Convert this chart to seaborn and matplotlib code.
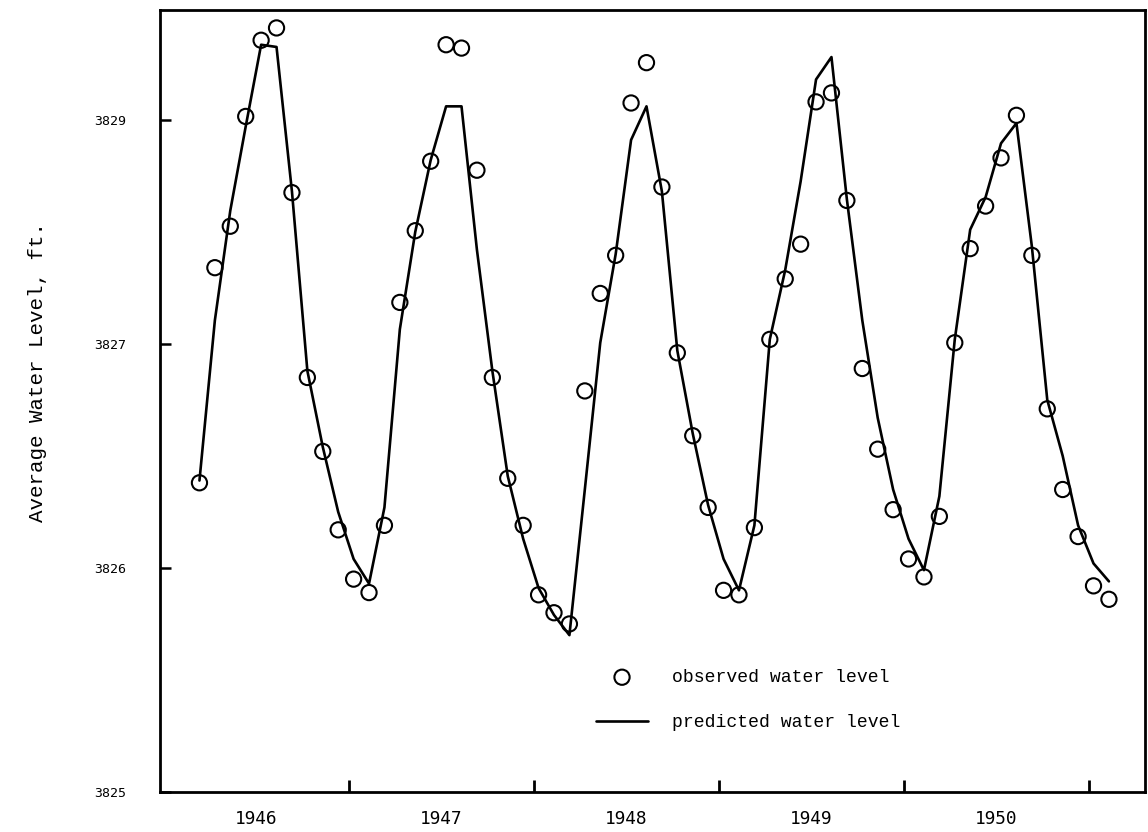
import numpy as np
import pandas as pd
import matplotlib
matplotlib.use("Agg")
import matplotlib.pyplot as plt
import seaborn as sns

# ---- data ----
start_month = "1946-03"          # first monthly reading (March 1946)
n_months = 60
observed = [3826.38, 3827.68, 3828.05, 3829.03, 3829.71, 3829.82, 3828.35, 3826.85, 3826.52, 3826.17, 3825.95, 3825.89,
            3826.19, 3827.37, 3828.01, 3828.63, 3829.67, 3829.64, 3828.55, 3826.85, 3826.40, 3826.19, 3825.88, 3825.80,
            3825.75, 3826.79, 3827.45, 3827.79, 3829.15, 3829.51, 3828.40, 3826.96, 3826.59, 3826.27, 3825.90, 3825.88,
            3826.18, 3827.04, 3827.58, 3827.89, 3829.16, 3829.24, 3828.28, 3826.89, 3826.53, 3826.26, 3826.04, 3825.96,
            3826.23, 3827.01, 3827.85, 3828.23, 3828.66, 3829.04, 3827.79, 3826.71, 3826.35, 3826.14, 3825.92, 3825.86]
predicted = [3826.39, 3827.21, 3828.19, 3828.94, 3829.67, 3829.65, 3828.36, 3826.88, 3826.54, 3826.25, 3826.04, 3825.93,
             3826.27, 3827.13, 3828.00, 3828.64, 3829.12, 3829.12, 3827.84, 3826.88, 3826.41, 3826.13, 3825.91, 3825.79,
             3825.70, 3826.35, 3827.01, 3827.80, 3828.82, 3829.12, 3828.36, 3826.97, 3826.60, 3826.28, 3826.04, 3825.90,
             3826.19, 3827.04, 3827.66, 3828.45, 3829.36, 3829.56, 3828.29, 3827.21, 3826.67, 3826.35, 3826.13, 3825.99,
             3826.32, 3827.04, 3828.02, 3828.31, 3828.79, 3828.97, 3827.87, 3826.75, 3826.50, 3826.19, 3826.02, 3825.94]
year_labels = ["1946", "1947", "1948", "1949", "1950"]
y_ticks = [3825, 3826, 3827, 3829]
y_tick_labels = ["3825", "3826", "3827", "3829"]
obs_label = "observed water level"
pred_label = "predicted water level"
y_title = "Average Water Level, ft."

# readings taken around the 10th of each month -> decimal year
dates = pd.date_range(start_month + "-10", periods=n_months, freq=pd.DateOffset(months=1))
dec_year = dates.year + (dates.month - 1) / 12 + (dates.day - 1) / 365.0
df = pd.DataFrame({"t": dec_year, "observed": observed, "predicted": predicted})

# ---- figure ----
sns.set_style("white")
plt.rcParams["font.family"] = ["Liberation Mono", "DejaVu Sans Mono"]
plt.rcParams["text.color"] = "black"
plt.rcParams["axes.labelcolor"] = "black"
plt.rcParams["xtick.color"] = "black"
plt.rcParams["ytick.color"] = "black"

fig = plt.figure(figsize=(11.48, 8.32), dpi=100)
ax = fig.add_axes([160 / 1148, 1 - 792 / 832, (1145 - 160) / 1148, (792 - 10) / 832])

# the original axis: equal spacing between 3825, 3826, 3827 and 3829
def fwd(v):
    v = np.asarray(v, dtype=float)
    return np.where(v <= 3827, v - 3825, 2 + (v - 3827) / 2.0)

def inv(t):
    t = np.asarray(t, dtype=float)
    return np.where(t <= 2, t + 3825, 3827 + 2 * (t - 2))

ax.set_yscale("function", functions=(fwd, inv))

sns.lineplot(data=df, x="t", y="predicted", ax=ax, color="black", linewidth=1.9,
             label=pred_label)
sns.scatterplot(data=df, x="t", y="observed", ax=ax, marker="o", s=120,
                facecolors="none", edgecolor="black", linewidth=1.5,
                label=obs_label, zorder=3)

ax.set_xlim(1945.978, 1951.303)
ax.set_ylim(3825, 3829.98)

# x: ticks at year boundaries, labels centred within each year
ax.set_xticks([1947, 1948, 1949, 1950, 1951])
ax.set_xticklabels([""] * 5)
ax.set_xticks([1946.5, 1947.5, 1948.5, 1949.5, 1950.5], minor=True)
ax.set_xticklabels(year_labels, minor=True, fontsize=12.8, family="DejaVu Sans Mono")
ax.tick_params(axis="x", which="major", direction="in", length=9, width=2,
               color="black", bottom=True, top=False)
ax.tick_params(axis="x", which="minor", length=0, pad=13, bottom=True,
               labelcolor="black")

ax.set_yticks(y_ticks)
ax.set_yticklabels(y_tick_labels, fontsize=9.5, family="DejaVu Sans Mono")
ax.tick_params(axis="y", which="major", direction="in", length=8, width=1.8,
               color="black", labelcolor="black", pad=24, left=True, right=False)
ax.yaxis.set_minor_locator(matplotlib.ticker.NullLocator())

ax.set_xlabel("")
ax.set_ylabel(y_title, fontsize=15, color="black")
ax.yaxis.set_label_coords(-0.115, 0.537)

for side in ["left", "right", "top", "bottom"]:
    ax.spines[side].set_visible(True)
    ax.spines[side].set_color("black")
    ax.spines[side].set_linewidth(2.0)

handles, labels = ax.get_legend_handles_labels()
order = [labels.index(obs_label), labels.index(pred_label)]
leg = ax.legend([handles[i] for i in order], [labels[i] for i in order],
                loc="upper left", bbox_to_anchor=(596 / 1148, 1 - 669 / 832),
                bbox_transform=fig.transFigure, frameon=False, fontsize=13.1,
                handlelength=2.86, handletextpad=1.32, labelspacing=1.55,
                borderpad=0, borderaxespad=0, labelcolor="black")

fig.savefig("out.png", dpi=100, facecolor="white")
